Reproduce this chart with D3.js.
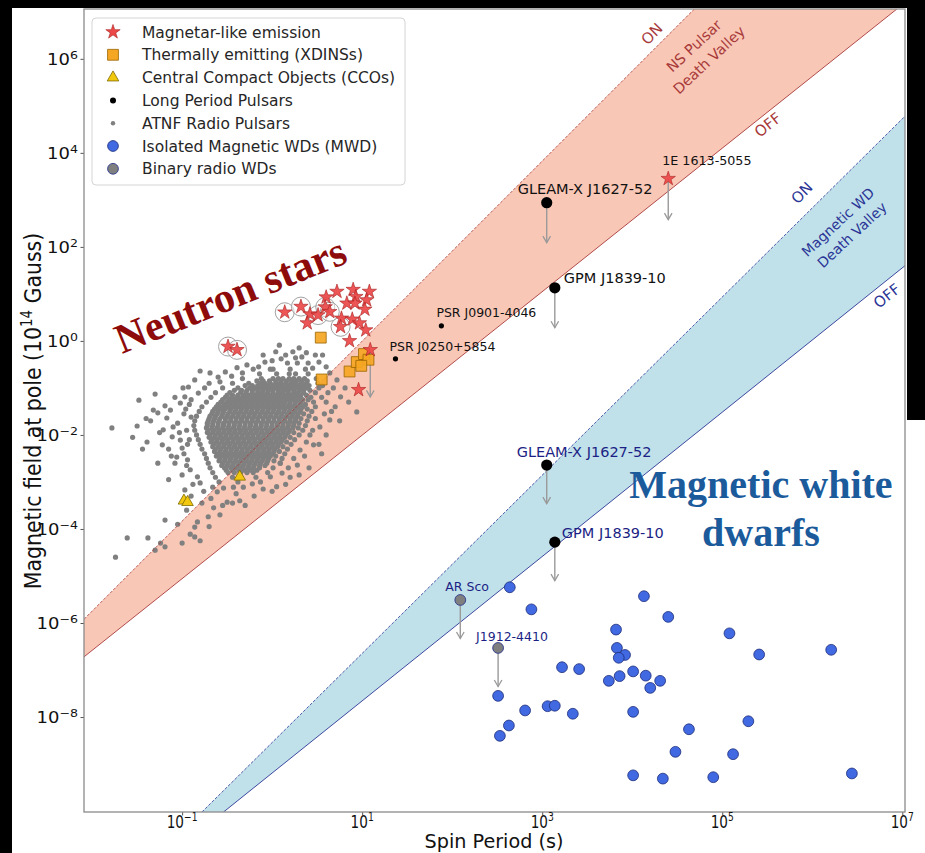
<!DOCTYPE html>
<html>
<head>
<meta charset="utf-8">
<script src="https://cdn.jsdelivr.net/npm/d3@7"></script>
<style>
  body { margin: 0; background: #000; }
  svg { display: block; }
</style>
</head>
<body>
<svg id="chart" width="925" height="853"></svg>
<script>
// all values are log10: P in s, B in 1e14 G

// death valleys, two points per line [log P, log B]
const nsOnLine = [[-2.09, -5.92], [4.69, 7.06]];
const nsOffLine = [[-2.09, -6.72], [6.94, 7.06]];
const wdOnLine = [[-0.78, -10.02], [7.03, 4.78]];
const wdOffLine = [[-0.54, -10.02], [7.03, 1.60]];

// magnetar-like emitters
const magLogP = [0.72, 0.90, 1.08, 0.60, 0.93, 1.05, 0.83, 0.92, 0.14, 0.32, 0.42, 0.51, 0.59, 0.64, 1.03, 0.77, 0.89, 0.97, 0.39, 0.76, 1.04, 0.86, 1.09, 0.96, -0.49, -0.39, 4.40];
const magLogB = [1.05, 1.09, 1.05, 0.93, 0.94, 0.87, 0.80, 0.80, 0.61, 0.73, 0.57, 0.55, 0.72, 0.62, 0.67, 0.48, 0.46, 0.38, 0.38, 0.30, 0.23, 0.00, -0.19, -1.04, -0.12, -0.19, 3.45];
const magRadio = [0, 0, 0, 0, 0, 0, 0, 0, 1, 1, 0, 1, 1, 1, 0, 0, 0, 0, 0, 1, 0, 0, 0, 0, 1, 1, 0];
const magDrop = [0, 0, 0, 0, 0, 0, 0, 0, 0, 0, 0, 0, 0, 0, 0, 0, 0, 0, 0, 0, 0, 0, 1.0, 0, 0, 0, 0.87];

// XDINSs and CCOs
const xdinsLogP = [0.54, 0.55, 0.86, 0.94, 1.02, 1.07, 0.99];
const xdinsLogB = [0.07, -0.82, -0.65, -0.45, -0.28, -0.40, -0.53];
const ccoLogP = [-0.36, -0.98, -0.94];
const ccoLogB = [-2.89, -3.40, -3.43];

// long period radio transients, NS and WD field estimates
const lptNames = ["GLEAM-X J1627-52", "GPM J1839-10"];
const lptLogP = [3.05, 3.14];
const lptLogBns = [2.94, 1.13];
const lptLogBwd = [-2.64, -4.28];
const psrNames = ["PSR J0901-4046", "PSR J0250+5854"];
const psrLogP = [1.88, 1.37];
const psrLogB = [0.32, -0.38];

// white dwarfs
const binNames = ["AR Sco", "J1912-4410"];
const binLogP = [2.09, 2.51];
const binLogB = [-5.51, -6.53];
const mwdLogP = [2.64, 2.88, 4.13, 4.40, 3.82, 5.08, 5.41, 6.21, 3.83, 3.92, 3.85, 3.22, 3.41, 4.01, 3.86, 4.15, 3.74, 4.31, 4.20, 2.51, 3.06, 3.14, 2.81, 3.34, 4.01, 2.63, 2.53, 5.29, 4.63, 4.48, 5.12, 4.01, 4.34, 4.90, 6.44];
const mwdLogB = [-5.24, -5.71, -5.43, -5.87, -6.14, -6.22, -6.67, -6.57, -6.53, -6.68, -6.74, -6.94, -6.98, -7.03, -7.13, -7.12, -7.23, -7.23, -7.38, -7.55, -7.77, -7.76, -7.86, -7.93, -7.89, -8.18, -8.40, -8.09, -8.26, -8.74, -8.79, -9.24, -9.31, -9.28, -9.20];

// ATNF pulsars: dense body read row by row (log B), then scattered ones
const atnfRowLogB = [-0.6, -0.7, -0.8, -0.85, -0.9, -0.95, -1.0, -1.05, -1.1, -1.15, -1.2, -1.25, -1.3, -1.35,
  -1.4, -1.45, -1.5, -1.55, -1.6, -1.65, -1.7, -1.75, -1.8, -1.85, -1.9, -1.95, -2.0, -2.05, -2.1, -2.15, -2.2, -2.25,
  -2.3, -2.35, -2.4, -2.45, -2.5, -2.55, -2.6, -2.65, -2.7, -2.75, -2.8, -2.9, -3.0];
const atnfRowLogP = [
  [0.01, 0.2, 0.37],
  [-0.14, 0.05, 0.19, 0.26, 0.4],
  [-0.33, -0.12, 0.01, 0.07, 0.12, 0.19, 0.24, 0.3, 0.36, 0.49],
  [-0.17, -0.1, -0.03, 0.04, 0.1, 0.16, 0.22, 0.27, 0.33, 0.39],
  [-0.44, -0.26, -0.13, -0.08, -0.02, 0.04, 0.09, 0.15, 0.21, 0.26, 0.32, 0.38, 0.51],
  [-0.3, -0.22, -0.16, -0.1, -0.05, 0.01, 0.07, 0.12, 0.18, 0.24, 0.29, 0.35, 0.41],
  [-0.55, -0.38, -0.25, -0.19, -0.13, -0.07, -0.02, 0.04, 0.1, 0.15, 0.21, 0.27, 0.32, 0.38, 0.52],
  [-0.42, -0.34, -0.28, -0.22, -0.16, -0.1, -0.04, 0.01, 0.07, 0.13, 0.18, 0.24, 0.3, 0.35, 0.42],
  [-0.63, -0.47, -0.35, -0.29, -0.22, -0.16, -0.11, -0.05, 0.01, 0.07, 0.12, 0.18, 0.24, 0.29, 0.35, 0.48],
  [-0.5, -0.44, -0.38, -0.32, -0.25, -0.19, -0.13, -0.08, -0.02, 0.04, 0.1, 0.15, 0.21, 0.27, 0.32, 0.38],
  [-0.68, -0.52, -0.45, -0.39, -0.33, -0.28, -0.21, -0.15, -0.1, -0.04, 0.02, 0.08, 0.13, 0.19, 0.25, 0.31, 0.43],
  [-0.55, -0.48, -0.42, -0.36, -0.3, -0.24, -0.18, -0.12, -0.07, -0.01, 0.05, 0.11, 0.17, 0.22, 0.28, 0.34, 0.4],
  [-0.73, -0.57, -0.5, -0.44, -0.38, -0.32, -0.26, -0.21, -0.15, -0.09, -0.03, 0.03, 0.09, 0.14, 0.2, 0.26, 0.32, 0.46],
  [-0.6, -0.53, -0.47, -0.41, -0.35, -0.29, -0.23, -0.17, -0.11, -0.05, 0.01, 0.07, 0.13, 0.19, 0.25, 0.31, 0.37],
  [-0.78, -0.62, -0.56, -0.5, -0.44, -0.38, -0.32, -0.26, -0.2, -0.14, -0.08, -0.02, 0.04, 0.1, 0.16, 0.22, 0.28, 0.34, 0.48],
  [-0.64, -0.58, -0.52, -0.46, -0.4, -0.34, -0.28, -0.22, -0.16, -0.1, -0.04, 0.02, 0.08, 0.14, 0.2, 0.26, 0.32, 0.39],
  [-0.81, -0.66, -0.6, -0.54, -0.47, -0.41, -0.35, -0.29, -0.23, -0.17, -0.11, -0.05, 0.01, 0.07, 0.13, 0.19, 0.25, 0.31, 0.44],
  [-0.67, -0.61, -0.55, -0.49, -0.43, -0.37, -0.31, -0.25, -0.19, -0.13, -0.07, -0.01, 0.05, 0.11, 0.17, 0.23, 0.29, 0.35],
  [-0.84, -0.69, -0.63, -0.56, -0.5, -0.44, -0.38, -0.32, -0.26, -0.2, -0.14, -0.08, -0.02, 0.04, 0.1, 0.16, 0.22, 0.28, 0.41],
  [-0.7, -0.64, -0.58, -0.52, -0.46, -0.4, -0.34, -0.28, -0.22, -0.16, -0.1, -0.04, 0.02, 0.08, 0.14, 0.2, 0.26, 0.32],
  [-0.86, -0.71, -0.65, -0.59, -0.52, -0.46, -0.4, -0.34, -0.28, -0.22, -0.16, -0.1, -0.04, 0.02, 0.08, 0.14, 0.2, 0.26, 0.39],
  [-0.72, -0.66, -0.6, -0.54, -0.48, -0.42, -0.36, -0.3, -0.24, -0.18, -0.12, -0.06, 0.0, 0.06, 0.12, 0.18, 0.24, 0.3],
  [-0.87, -0.72, -0.66, -0.6, -0.54, -0.48, -0.42, -0.36, -0.3, -0.24, -0.18, -0.12, -0.06, 0.0, 0.06, 0.12, 0.18, 0.24, 0.37],
  [-0.73, -0.67, -0.61, -0.55, -0.49, -0.43, -0.37, -0.31, -0.25, -0.19, -0.13, -0.07, -0.01, 0.05, 0.11, 0.17, 0.23, 0.29],
  [-0.86, -0.71, -0.65, -0.59, -0.53, -0.47, -0.41, -0.35, -0.29, -0.23, -0.17, -0.11, -0.05, 0.01, 0.07, 0.13, 0.19, 0.34],
  [-0.72, -0.66, -0.6, -0.54, -0.48, -0.42, -0.36, -0.3, -0.24, -0.18, -0.12, -0.06, 0.0, 0.06, 0.12, 0.18, 0.24],
  [-0.84, -0.69, -0.63, -0.57, -0.51, -0.45, -0.39, -0.33, -0.27, -0.21, -0.15, -0.09, -0.03, 0.03, 0.09, 0.15, 0.3],
  [-0.7, -0.64, -0.58, -0.52, -0.46, -0.4, -0.34, -0.28, -0.22, -0.16, -0.1, -0.04, 0.02, 0.08, 0.14, 0.2],
  [-0.82, -0.67, -0.61, -0.55, -0.49, -0.43, -0.37, -0.31, -0.25, -0.19, -0.13, -0.07, -0.01, 0.05, 0.11, 0.25],
  [-0.68, -0.62, -0.56, -0.5, -0.44, -0.38, -0.32, -0.26, -0.2, -0.14, -0.08, -0.02, 0.04, 0.1, 0.16],
  [-0.8, -0.65, -0.59, -0.53, -0.47, -0.41, -0.35, -0.29, -0.23, -0.17, -0.11, -0.05, 0.01, 0.07, 0.21],
  [-0.66, -0.6, -0.54, -0.48, -0.42, -0.36, -0.3, -0.24, -0.18, -0.12, -0.06, 0.0, 0.06, 0.12],
  [-0.78, -0.63, -0.57, -0.51, -0.45, -0.39, -0.33, -0.27, -0.21, -0.15, -0.09, -0.03, 0.03, 0.17],
  [-0.64, -0.58, -0.52, -0.46, -0.4, -0.34, -0.28, -0.22, -0.16, -0.1, -0.04, 0.02, 0.08],
  [-0.75, -0.6, -0.54, -0.48, -0.42, -0.36, -0.3, -0.24, -0.18, -0.12, -0.06, 0.0, 0.14],
  [-0.62, -0.56, -0.5, -0.44, -0.38, -0.32, -0.26, -0.2, -0.14, -0.08, -0.02, 0.04],
  [-0.73, -0.58, -0.52, -0.46, -0.4, -0.34, -0.28, -0.22, -0.16, -0.1, -0.04, 0.11],
  [-0.59, -0.53, -0.47, -0.41, -0.35, -0.29, -0.23, -0.17, -0.11, -0.05, 0.02],
  [-0.71, -0.55, -0.49, -0.43, -0.37, -0.31, -0.25, -0.19, -0.13, -0.06, 0.09],
  [-0.56, -0.5, -0.44, -0.38, -0.32, -0.26, -0.2, -0.14, -0.08],
  [-0.69, -0.53, -0.46, -0.4, -0.34, -0.27, -0.21, -0.14, 0.01],
  [-0.51, -0.44, -0.37, -0.31, -0.24, -0.17],
  [-0.66, -0.49, -0.42, -0.35, -0.28, -0.21, -0.05],
  [-0.63, -0.44, -0.35, -0.18],
  [-0.59, -0.38]
];
const atnfScatter = [
  [-1.78, -1.85], [-1.74, -4.60], [-1.5, -1.81], [-1.48, -1.26], [-1.3, -1.13], [-1.44, -2.30], [-1.39, -2.15],
  [-1.22, -2.21], [-1.32, -1.47], [-1.27, -1.53], [-1.17, -1.64], [-1.1, -1.83], [-1.21, -1.89], [-1.11, -2.04],
  [-1.02, -2.11], [-1.06, -2.47], [-1.0, -2.28], [-0.94, -2.53], [-0.91, -2.74], [-0.83, -2.89], [-0.8, -3.02],
  [-1.13, -1.47], [-1.02, -1.32], [-0.97, -1.19], [-0.82, -1.11], [-0.99, -1.0], [-0.86, -0.83], [-0.69, -0.68],
  [-0.8, -0.64], [-0.58, -0.87], [-0.52, -0.66], [-0.39, -0.57], [-0.28, -0.51], [-0.21, -0.60], [-0.08, -0.45],
  [0.04, -0.23], [0.08, -0.09], [0.23, -0.23], [0.17, -0.47], [0.28, -0.47], [0.33, -0.34], [0.40, -0.47],
  [0.48, -0.30], [0.56, -0.30], [0.64, -0.68], [0.72, -0.83], [0.68, -1.0], [0.76, -1.19], [0.81, -1.0],
  [0.70, -1.40], [0.94, -1.51], [0.64, -1.68], [0.53, -1.83], [0.42, -2.0], [0.46, -2.21], [0.31, -2.32],
  [0.28, -2.64], [0.11, -2.81], [0.09, -2.60], [-0.02, -2.89], [-0.13, -3.0], [-0.22, -3.04], [-0.32, -3.11],
  [-0.43, -3.11], [-0.54, -3.13], [-0.66, -3.11], [-0.61, -3.21], [-0.5, -3.43], [-0.36, -3.4], [-0.44, -3.45],
  [-0.58, -3.70], [-0.71, -3.74], [-0.83, -3.85], [-0.86, -3.96], [-0.91, -4.11], [-0.86, -4.17], [-1.19, -3.81],
  [-1.24, -4.30], [-1.19, -4.38], [-1.38, -4.19], [-1.61, -4.19], [-0.97, -3.17], [0.6, -1.3], [0.58, -1.55],
  [0.55, -2.4], [0.2, -2.9], [0.05, -3.1], [-0.92, -1.35], [-0.9, -1.62], [-0.95, -1.9], [-0.92, -2.1],
  [-1.35, -1.7], [-1.25, -1.95], [-1.15, -2.3], [-1.08, -2.6], [-0.98, -2.4], [-0.95, -2.65], [-1.05, -1.75],
  [-0.98, -1.55], [-1.08, -1.2], [-0.93, -0.98], [-0.9, -1.25], [-0.96, -1.45], [-1.19, -1.38], [-1.03, -1.95],
  [-0.94, -2.2], [-1.12, -2.45], [-1.0, -2.85], [-0.88, -3.05], [-0.76, -3.2], [-0.9, -3.3], [-0.68, -3.35],
  [-1.4, -1.65], [-1.55, -2.05], [-1.27, -2.6], [-1.15, -2.95], [-0.45, -0.75], [-0.33, -0.68], [-0.15, -0.55],
  [-0.02, -0.6], [0.1, -0.38], [0.15, -0.3], [0.26, -0.36], [0.38, -0.25], [0.52, -0.45], [0.6, -0.55],
  [-0.1, -0.3], [0.0, -0.42], [0.3, -0.15], [0.45, -0.58], [-0.6, -0.77], [-0.7, -0.9], [-0.75, -1.0],
  [0.56, -0.95], [0.62, -1.1], [0.55, -1.2], [0.66, -1.5], [0.48, -1.65], [0.45, -1.9], [0.38, -2.15],
  [0.36, -2.45], [0.24, -2.5], [0.18, -2.7], [0.3, -2.85], [0.15, -3.05], [0.0, -3.2], [-0.1, -3.15],
  [-0.2, -3.3], [0.52, -2.2], [0.75, -1.7], [0.85, -1.3], [0.6, -2.0], [0.41, -2.7], [-0.55, -3.5],
  [-0.65, -3.55], [-0.78, -3.45], [-0.4, -3.25], [-0.3, -3.5], [-0.95, -3.6], [-1.05, -3.9], [-0.7, -3.95],
  [-1.0, -4.3], [-1.3, -4.45], [-0.8, -4.25]
];

const xTickExp = [-1, 1, 3, 5, 7];
const yTickExp = [-8, -6, -4, -2, 0, 2, 4, 6];

const legendItems = ["Magnetar-like emission", "Thermally emitting (XDINSs)", "Central Compact Objects (CCOs)",
  "Long Period Pulsars", "ATNF Radio Pulsars", "Isolated Magnetic WDs (MWD)", "Binary radio WDs"];

const sans = "'DejaVu Sans', sans-serif";
const serif = "'Liberation Serif', 'Times New Roman', serif";

const svg = d3.select("#chart").style("font-family", sans);
const margin = {top: 9, left: 84, bottom: 41, right: 20};
const width = +svg.attr("width"), height = +svg.attr("height");

svg.append("rect").attr("x", 12).attr("y", 8).attr("width", width - 12).attr("height", height - 8).attr("fill", "#fff");
svg.append("rect").attr("x", 907).attr("y", 0).attr("width", width - 907).attr("height", 420).attr("fill", "#000");

const x = d3.scaleLog().domain([10 ** -2.09, 10 ** 7.03]).range([margin.left, width - margin.right]);
const y = d3.scaleLog().domain([10 ** -10.02, 10 ** 7.06]).range([height - margin.bottom, margin.top]);
const px = lp => x(10 ** lp), py = lb => y(10 ** lb);

svg.append("clipPath").attr("id", "plot")
  .append("rect").attr("x", margin.left).attr("y", margin.top)
  .attr("width", width - margin.right - margin.left).attr("height", height - margin.bottom - margin.top);

const plot = svg.append("g").attr("clip-path", "url(#plot)");

// valleys
const toPx = pts => pts.map(d => [px(d[0]), py(d[1])]);
const bands = [
  {on: nsOnLine, off: nsOffLine, fill: "#f9c7b6", stroke: "#a83a3a"},
  {on: wdOnLine, off: wdOffLine, fill: "#c0e1ea", stroke: "#2b3596"}
];
bands.forEach(b => {
  plot.append("path").attr("d", d3.line()(toPx([b.on[0], b.on[1], b.off[1], b.off[0]])) + "Z").attr("fill", b.fill);
});

// ATNF cloud
const atnf = [];
atnfRowLogB.forEach((lb, i) => atnfRowLogP[i].forEach(lp => atnf.push([lp, lb])));
atnfScatter.forEach(d => atnf.push(d));
plot.append("g").selectAll("circle").data(atnf).join("circle")
  .attr("cx", d => px(d[0])).attr("cy", d => py(d[1])).attr("r", 2.6).attr("fill", "#808080");

bands.forEach(b => {
  plot.append("path").attr("d", d3.line()(toPx(b.on))).attr("stroke", b.stroke).attr("stroke-width", 0.8)
    .attr("stroke-dasharray", "3,1.6").attr("fill", "none");
  plot.append("path").attr("d", d3.line()(toPx(b.off))).attr("stroke", b.stroke).attr("stroke-width", 0.9).attr("fill", "none");
});

// upper-limit arrows
function arrow(lp, lb, drop) {
  const ax = px(lp), y0 = py(lb), y1 = py(lb - drop);
  plot.append("line").attr("x1", ax).attr("x2", ax).attr("y1", y0).attr("y2", y1)
    .attr("stroke", "#9a9a9a").attr("stroke-width", 1.4);
  plot.append("path").attr("d", `M${ax - 3.8},${y1 - 6.5}L${ax},${y1}L${ax + 3.8},${y1 - 6.5}`)
    .attr("stroke", "#9a9a9a").attr("stroke-width", 1.3).attr("fill", "none");
}
magDrop.forEach((d, i) => { if (d) arrow(magLogP[i], magLogB[i], d); });
lptLogP.forEach((lp, i) => { arrow(lp, lptLogBns[i], 0.85); arrow(lp, lptLogBwd[i], 0.82); });
binLogP.forEach((lp, i) => arrow(lp, binLogB[i], 0.82));

// CCOs, XDINSs, magnetars
const tri = d3.symbol(d3.symbolTriangle).size(58);
const sq = d3.symbol(d3.symbolSquare).size(118);
const star = d3.symbol(d3.symbolStar).size(64);

plot.append("g").selectAll("path").data(ccoLogP).join("path")
  .attr("d", tri).attr("transform", (d, i) => `translate(${px(d)},${py(ccoLogB[i])})`)
  .attr("fill", "#f2c80f").attr("stroke", "#7d6a00").attr("stroke-width", 0.8);

plot.append("g").selectAll("path").data(xdinsLogP).join("path")
  .attr("d", sq).attr("transform", (d, i) => `translate(${px(d)},${py(xdinsLogB[i])})`)
  .attr("fill", "#f5a623").attr("fill-opacity", 0.92).attr("stroke", "#9a6400").attr("stroke-width", 0.8);

plot.append("g").selectAll("circle").data(magLogP.filter((d, i) => magRadio[i])).join("circle")
  .attr("cx", d => px(d)).attr("cy", (d, i) => py(magLogB.filter((b, j) => magRadio[j])[i])).attr("r", 9.5)
  .attr("fill", "#fff").attr("fill-opacity", 0.5).attr("stroke", "#a0a0a0").attr("stroke-width", 1);

plot.append("g").selectAll("path").data(magLogP).join("path")
  .attr("d", star).attr("transform", (d, i) => `translate(${px(d)},${py(magLogB[i])})`)
  .attr("fill", "#ec4848").attr("fill-opacity", 0.92).attr("stroke", "#a82020").attr("stroke-width", 0.6);

// long period pulsars
lptLogP.forEach((lp, i) => {
  [lptLogBns[i], lptLogBwd[i]].forEach(lb => {
    plot.append("circle").attr("cx", px(lp)).attr("cy", py(lb)).attr("r", 5.6).attr("fill", "#000");
  });
});
psrLogP.forEach((lp, i) => {
  plot.append("circle").attr("cx", px(lp)).attr("cy", py(psrLogB[i])).attr("r", 2.6).attr("fill", "#000");
});

// white dwarfs
plot.append("g").selectAll("circle").data(mwdLogP).join("circle")
  .attr("cx", d => px(d)).attr("cy", (d, i) => py(mwdLogB[i])).attr("r", 5.4)
  .attr("fill", "#4169e1").attr("stroke", "#1d2c7a").attr("stroke-width", 0.8);
plot.append("g").selectAll("circle").data(binLogP).join("circle")
  .attr("cx", d => px(d)).attr("cy", (d, i) => py(binLogB[i])).attr("r", 5.4)
  .attr("fill", "#7f7f7f").attr("stroke", "#2e3a8c").attr("stroke-width", 0.9);

// object labels
const label = (txt, lp, lb, dx, dy, size, color) => svg.append("text")
  .attr("x", px(lp) + dx).attr("y", py(lb) + dy).attr("font-size", size).attr("fill", color).text(txt);
label(lptNames[0], lptLogP[0], lptLogBns[0], -29, -9, 14.5, "#111");
label(lptNames[1], lptLogP[1], lptLogBns[1], 9, -5, 14.5, "#111");
label(lptNames[0], lptLogP[0], lptLogBwd[0], -30, -8, 14.5, "#1c1f85");
label(lptNames[1], lptLogP[1], lptLogBwd[1], 7, -4, 14.5, "#1c1f85");
label(psrNames[0], psrLogP[0], psrLogB[0], -5, -9, 12.5, "#111");
label(psrNames[1], psrLogP[1], psrLogB[1], -6, -8, 12.5, "#111");
label("1E 1613-5055", magLogP[26], magLogB[26], -6, -14, 12.7, "#111");
label(binNames[0], binLogP[0], binLogB[0], -15, -9, 12.5, "#1c1f85");
label(binNames[1], binLogP[1], binLogB[1], -22, -7, 12.5, "#1c1f85");

// valley annotations
const rotText = (txt, cx, cy, ang, size, color) => svg.append("text")
  .attr("transform", `translate(${cx},${cy}) rotate(${ang})`).attr("text-anchor", "middle")
  .attr("dominant-baseline", "central").attr("font-size", size).attr("fill", color).text(txt);
rotText("ON", 652, 34, -45, 15, "#a83a3a");
rotText("OFF", 768, 125, -38.7, 15, "#a83a3a");
rotText("NS Pulsar", 694, 46, -43, 14.5, "#a83a3a");
rotText("Death Valley", 709, 60, -43, 14.5, "#a83a3a");
rotText("ON", 802, 193, -45, 15, "#2b3596");
rotText("OFF", 887, 296, -38.7, 15, "#2b3596");
rotText("Magnetic WD", 838, 222, -43, 14, "#2b3596");
rotText("Death Valley", 852, 235, -43, 14, "#2b3596");

// big headings
svg.append("text").attr("transform", "translate(122,354) rotate(-22)")
  .style("font-family", serif).attr("font-weight", "bold")
  .attr("font-size", 42).attr("fill", "#8e0b0b").text("Neutron stars");
[["Magnetic white", 498], ["dwarfs", 546]].forEach(([t, yy]) => {
  svg.append("text").attr("x", 761).attr("y", yy).attr("text-anchor", "middle")
    .style("font-family", serif).attr("font-weight", "bold")
    .attr("font-size", 40).attr("fill", "#1b5b9b").text(t);
});

// frame and ticks
svg.append("g").attr("transform", `translate(0,${height - margin.bottom})`)
  .call(d3.axisBottom(x).tickValues(xTickExp.map(e => 10 ** e)).tickFormat("").tickSize(3.5));
svg.append("g").attr("transform", `translate(${margin.left},0)`)
  .call(d3.axisLeft(y).tickValues(yTickExp.map(e => 10 ** e)).tickFormat("").tickSize(3.5));
svg.selectAll(".domain").remove();
svg.selectAll(".tick line").attr("stroke", "#555");

svg.append("rect").attr("x", margin.left).attr("y", margin.top)
  .attr("width", width - margin.right - margin.left).attr("height", height - margin.bottom - margin.top)
  .attr("fill", "none").attr("stroke", "#8a8a8a").attr("stroke-width", 1.3);

const pow = (sel, e, size, supSize, rise) => {
  sel.append("tspan").attr("font-size", size).text("10");
  sel.append("tspan").attr("font-size", supSize).attr("dy", -rise).text(String(e).replace("-", "\u2212"));
};
xTickExp.forEach(e => {
  const t = svg.append("g").attr("transform", `translate(${x(10 ** e)},828) scale(0.8,1)`)
    .append("text").attr("text-anchor", "middle").attr("fill", "#111");
  pow(t, e, 17, 11.5, 7);
});
yTickExp.forEach(e => {
  const t = svg.append("g").attr("transform", `translate(78,${y(10 ** e) + 6}) scale(1.2,1)`)
    .append("text").attr("text-anchor", "end").attr("fill", "#111");
  pow(t, e, 15, 10.5, 6);
});

svg.append("g").attr("transform", "translate(494,848) scale(0.96,1)")
  .append("text").attr("text-anchor", "middle").attr("font-size", 20).attr("fill", "#111").text("Spin Period (s)");
const yl = svg.append("g").attr("transform", "translate(41,411) rotate(-90) scale(0.89,1)")
  .append("text").attr("text-anchor", "middle").attr("font-size", 23).attr("fill", "#111");
yl.append("tspan").text("Magnetic field at pole (10");
yl.append("tspan").attr("font-size", 15).attr("dy", -9).text("14");
yl.append("tspan").attr("dy", 9).text(" Gauss)");

// legend
const legend = svg.append("g").attr("transform", "translate(92,18)");
legend.append("rect").attr("width", 313).attr("height", 167).attr("rx", 4)
  .attr("fill", "#fff").attr("fill-opacity", 0.85).attr("stroke", "#d4d4d4");
const rows = legend.selectAll(".legend").data(legendItems).join("g")
  .attr("class", "legend").attr("transform", (d, i) => `translate(0,${14 + i * 22.8})`);
rows.append("text").attr("x", 50).attr("y", 5.5).attr("font-size", 15.5).attr("fill", "#262626").text(d => d);
const lg = i => rows.filter((d, j) => j === i).append("g").attr("transform", "translate(21,0)");
lg(0).append("path").attr("d", star).attr("fill", "#ec4848").attr("stroke", "#a82020").attr("stroke-width", 0.6);
lg(1).append("path").attr("d", sq).attr("fill", "#f5a623").attr("stroke", "#9a6400").attr("stroke-width", 0.8);
lg(2).append("path").attr("d", tri).attr("fill", "#f2c80f").attr("stroke", "#7d6a00").attr("stroke-width", 0.8);
lg(3).append("circle").attr("r", 3).attr("fill", "#000");
lg(4).append("circle").attr("r", 2.2).attr("fill", "#808080");
lg(5).append("circle").attr("r", 5.4).attr("fill", "#4169e1").attr("stroke", "#1d2c7a").attr("stroke-width", 0.8);
lg(6).append("circle").attr("r", 5.4).attr("fill", "#7f7f7f").attr("stroke", "#2e3a8c").attr("stroke-width", 0.9);
</script>
</body>
</html>
